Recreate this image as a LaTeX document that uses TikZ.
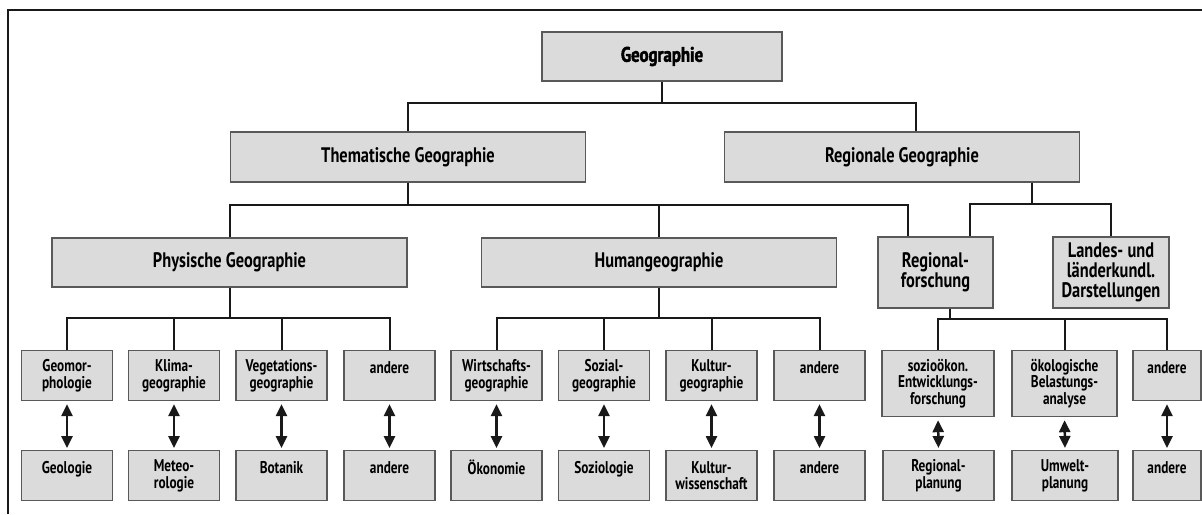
\documentclass[tikz,border=0pt]{standalone}
\usepackage{fontspec}
\setmainfont{PT Sans Bold}[FakeStretch=0.78]
\newfontfamily\topfont{PT Sans Bold}[FakeStretch=0.8,FakeBold=2]
\usetikzlibrary{arrows.meta}

\begin{document}
\begin{tikzpicture}[
    x = 1pt, y = -1pt, % pixel grid, y downwards
    line width = 2pt, draw = black!90,
    every node/.style = {draw = black!65, fill = black!14, line width = 1.2pt,
      align = center, inner sep = 0pt},
    big/.style = {minimum width = 355pt, minimum height = 50pt,
      font = \fontsize{21}{21}\selectfont},
    mid/.style = {minimum width = 115pt, minimum height = 71pt,
      font = \fontsize{21}{20}\selectfont},
    small/.style = {anchor = north, minimum width = 91pt, minimum height = 50pt,
      font = \fontsize{17}{16.7}\selectfont},
    link/.style = {{Triangle[length=12pt,width=11pt]}-{Triangle[length=12pt,width=11pt]},
      line width = 2.5pt, shorten < = 3pt, shorten > = 2pt}
  ]
  \useasboundingbox (0,0) rectangle (1202,514);
  \draw (8,514) -- (8,10) -- (1202,10);

  \node[big, minimum width = 240pt, minimum height = 49pt,
    font = \topfont\fontsize{21}{21}\selectfont] (Geo) at (662,56.5) {Geographie};
  \node[big] (Them) at (408,157) {Thematische Geographie};
  \node[big] (Reg) at (902,157) {Regionale Geographie};
  \node[big, minimum height = 49pt] (Phys) at (229.5,262.5) {Physische Geographie};
  \node[big, minimum height = 49pt] (Hum) at (659,262.5) {Humangeographie};
  \node[mid] (RegF) at (935.5,272.5) {Regional-\\forschung};
  \node[mid, minimum width = 116pt] (Land) at (1111,272.5) {Landes- und\\länderkundl.\\Darstellungen};

  % first row
  \node[small] (P1) at (67,350) {Geomor-\\phologie};
  \node[small] (P2) at (174,350) {Klima-\\geographie};
  \node[small] (P3) at (281.5,350) {Vegetations-\\geographie};
  \node[small] (P4) at (389.5,350) {andere\\\mbox{}};
  \node[small] (H1) at (496.5,350) {Wirtschafts-\\geographie};
  \node[small] (H2) at (604,350) {Sozial-\\geographie};
  \node[small] (H3) at (711.5,350) {Kultur-\\geographie};
  \node[small] (H4) at (819.5,350) {andere\\\mbox{}};
  \node[small, minimum width = 112pt, minimum height = 66pt] (R1) at (938,350)
    {sozioökon.\\Entwicklungs-\\forschung};
  \node[small, minimum width = 105pt, minimum height = 66pt] (R2) at (1064.5,350)
    {ökologische\\Belastungs-\\analyse};
  \node[small, minimum width = 68pt] (R3) at (1167,350) {andere\\\mbox{}};

  % second row
  \node[small] (P1-b) at (67,450) {Geologie\\\mbox{}};
  \node[small] (P2-b) at (174,450) {Meteo-\\rologie};
  \node[small] (P3-b) at (281.5,450) {Botanik\\\mbox{}};
  \node[small] (P4-b) at (389.5,450) {andere\\\mbox{}};
  \node[small] (H1-b) at (496.5,450) {Ökonomie\\\mbox{}};
  \node[small] (H2-b) at (604,450) {Soziologie\\\mbox{}};
  \node[small] (H3-b) at (711.5,450) {Kultur-\\wissenschaft};
  \node[small] (H4-b) at (819.5,450) {andere\\\mbox{}};
  \node[small, minimum width = 111pt] (R1-b) at (938.5,450) {Regional-\\planung};
  \node[small, minimum width = 106pt] (R2-b) at (1065,450) {Umwelt-\\planung};
  \node[small, minimum width = 68pt] (R3-b) at (1167,450) {andere\\\mbox{}};

  \draw (Geo.south) -- ++(0,21) -| (Them.north);
  \draw (Geo.south) -- ++(0,21) -| ([xshift=14pt]Reg.north);
  \draw (Them.south) -- ++(0,22) -| (Phys.north);
  \draw (Them.south) -- ++(0,22) -| (Hum.north);
  \draw (Them.south) -- ++(0,22) -| ([xshift=-28pt]RegF.north);
  \draw ([xshift=130pt]Reg.south) -- ++(0,21) -| ([xshift=34pt]RegF.north);
  \draw ([xshift=130pt]Reg.south) -- ++(0,21) -| (Land.north);
  \foreach \n in {P1,P2,P3,P4} \draw (Phys.south) -- ++(0,30) -| (\n.north);
  \foreach \n in {H1,H2,H3,H4} \draw (Hum.south) -- ++(0,30) -| (\n.north);
  \foreach \n in {R1,R2,R3} \draw ([xshift=14pt]RegF.south) -- ++(0,10) -| (\n.north);
  \foreach \n in {P1,P2,P3,P4,H1,H2,H3,H4,R1,R2,R3}
    \draw[link] (\n.south) -- (\n-b.north);
\end{tikzpicture}
\end{document}
